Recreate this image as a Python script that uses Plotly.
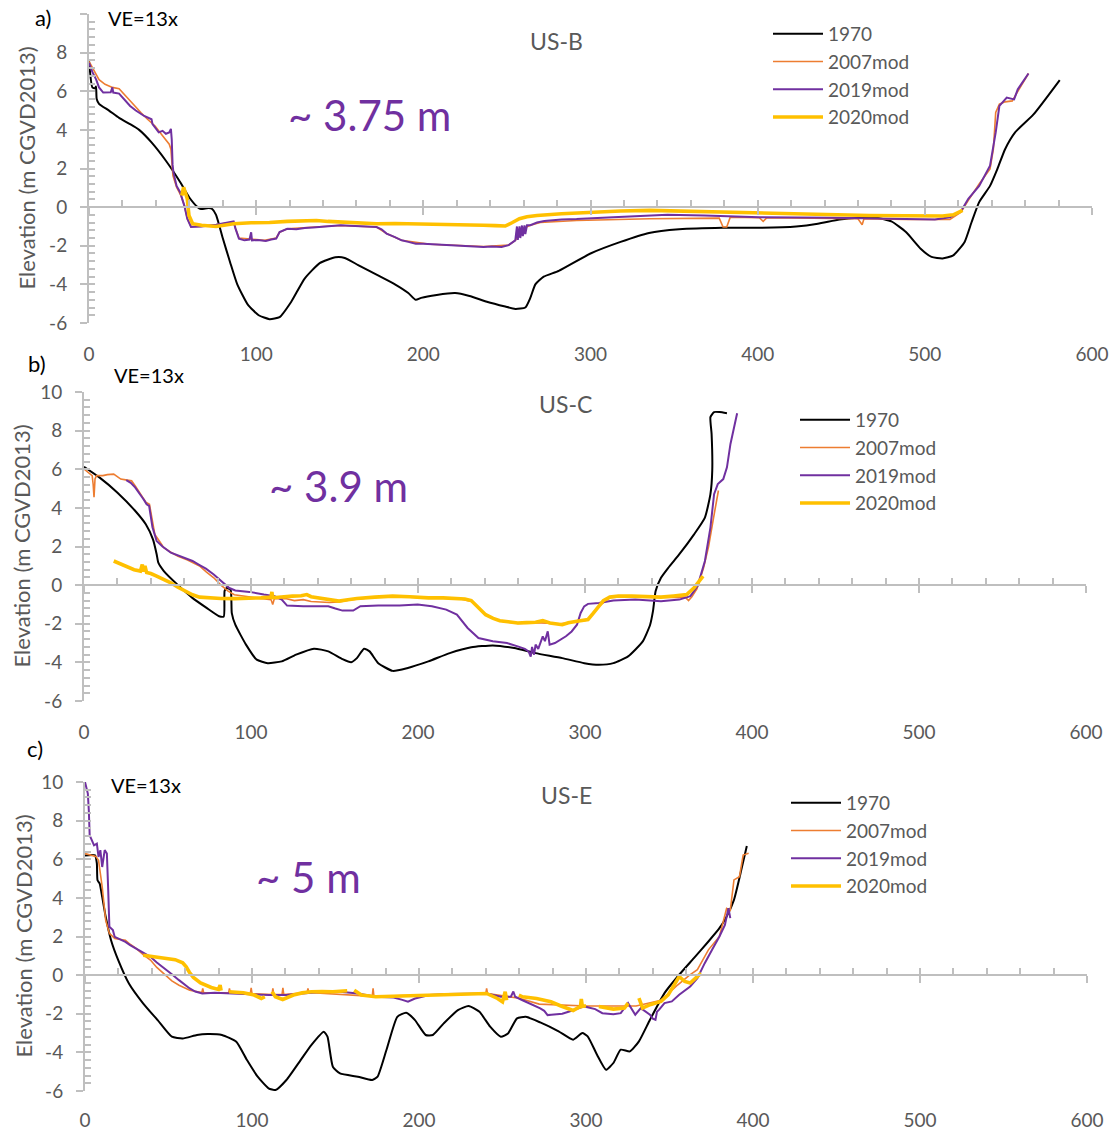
import plotly.graph_objects as go

# ---------------- data ----------------
SERIES = ["1970", "2007mod", "2019mod", "2020mod"]
PANEL_TITLES = ["US-B", "US-C", "US-E"]
PANEL_LETTERS = ["a)", "b)", "c)"]
DEPTH_LABELS = ["~ 3.75 m", "~ 3.9 m", "~ 5 m"]
VE_LABEL = "VE=13x"
Y_TITLE = "Elevation (m CGVD2013)"
X_TICKS = [0, 100, 200, 300, 400, 500, 600]
Y_TICKS = [-6, -4, -2, 0, 2, 4, 6, 8, 10]

# Panel a) US-B  (distance m, elevation m)
A_1970 = [(0, 7.58), (2, 6.2), (3.6, 6.15), (4.2, 6.25), (4.6, 5.6), (6, 5.35), (12, 5.0), (18, 4.62),
          (24.5, 4.3), (30, 4.0), (37.4, 3.35), (46, 2.4), (54.5, 1.3), (60, 0.5), (65, 0.0), (67, -0.1),
          (71.6, -0.05), (73.7, -0.1), (76, -0.4), (80, -1.6), (84.4, -2.85), (88.7, -4.0), (95, -5.05),
          (101.5, -5.6), (108, -5.8), (114, -5.7), (121, -4.9), (129, -3.7), (138, -2.9), (147.4, -2.6),
          (153, -2.63), (161, -3.0), (172, -3.5), (183, -4.0), (191, -4.45), (195.5, -4.8), (198.7, -4.7),
          (208, -4.55), (219, -4.45), (227.6, -4.6), (238, -4.9), (249, -5.15), (255, -5.27), (261, -5.2),
          (264, -4.7), (267, -4.0), (272, -3.6), (281, -3.3), (300, -2.4), (318, -1.8), (335, -1.34),
          (353, -1.15), (379, -1.07), (401, -1.07), (423, -1.0), (436, -0.86), (449, -0.64), (460, -0.55),
          (471, -0.55), (480, -0.74), (488.7, -1.29), (497.5, -2.15), (504, -2.58), (510.6, -2.66),
          (517, -2.5), (523.8, -1.8), (528, -0.77), (532.5, 0.26), (539, 1.1), (543.5, 2.0), (548, 3.0),
          (554, 3.87), (565, 4.8), (580.7, 6.58)]
A_2007 = [(0, 7.55), (3, 7.1), (6, 6.6), (9.6, 6.36), (14, 6.2), (18, 6.13), (21, 5.84), (26, 5.35),
          (31, 4.9), (35, 4.55), (39.5, 4.2), (44, 3.7), (48, 3.26), (49, 3.0), (50.2, 1.63), (52.4, 1.03),
          (55, 0.6), (57, 0.1), (58.8, -0.6), (61, -1.0), (67, -1.0), (76, -0.92), (86.5, -0.76),
          (87.6, -1.1), (89.7, -1.6), (105, -1.72), (112, -1.6), (114, -1.3), (118.6, -1.12), (150, -0.95),
          (172, -1.03), (178, -1.37), (187, -1.72), (204, -1.92), (236, -2.04), (251, -1.97), (255, -1.72),
          (260, -1.1), (264, -0.94), (270, -0.8), (291.7, -0.69), (335.5, -0.6), (377, -0.57),
          (379.3, -1.03), (381.5, -1.03), (383.6, -0.52), (401, -0.55), (403.3, -0.74), (405.5, -0.55),
          (460, -0.6), (462.5, -0.91), (463.6, -0.6), (488.7, -0.64), (515, -0.64), (521.6, -0.26),
          (526, 0.35), (532.5, 1.2), (539, 1.98), (541, 3.0), (542.4, 4.9), (544.6, 5.33), (548, 5.45),
          (552.3, 5.5), (555, 5.9), (562, 6.92)]
A_2019 = [(0, 7.47), (2, 7.0), (4.3, 6.6), (6, 6.2), (8.5, 5.93), (11, 5.95), (13, 5.95), (14, 6.2),
          (14.5, 5.93), (18, 5.88), (21, 5.6), (24.6, 5.24), (28, 5.0), (33, 4.72), (37.4, 4.55), (38, 4.3),
          (41.7, 3.87), (44, 3.95), (46, 3.8), (48, 3.87), (49, 4.05), (49.5, 3.5), (50, 2.2), (50.5, 1.8),
          (52.4, 1.1), (54.5, 0.77), (57, 0.08), (58.8, -0.6), (61, -1.03), (67, -1.0), (76, -0.91),
          (86.5, -0.74), (87.6, -1.1), (89.7, -1.63), (93, -1.72), (96, -1.68), (97, -1.3), (97.5, -1.72),
          (101, -1.7), (105.8, -1.75), (109, -1.68), (112, -1.63), (114, -1.29), (118.6, -1.12),
          (124, -1.15), (129, -1.08), (134, -1.05), (140, -1.0), (145, -0.98), (150.6, -0.94),
          (156, -0.96), (161, -0.98), (167, -1.0), (172, -1.03), (175, -1.15), (178, -1.37), (183, -1.55),
          (187, -1.72), (191, -1.8), (195.5, -1.89), (200, -1.9), (204, -1.92), (209, -1.95),
          (214.7, -1.97), (220, -1.98), (225, -2.0), (230, -2.02), (236, -2.06), (241, -2.04),
          (246.8, -2.06), (251, -1.97), (255, -1.72), (256, -1.0), (256.5, -1.7), (257.5, -1.0),
          (258, -1.6), (259, -0.95), (259.5, -1.5), (260.5, -0.95), (261, -1.4), (262, -0.94),
          (264, -0.94), (268, -0.8), (272.4, -0.72), (282.7, -0.64), (291.7, -0.62), (313.6, -0.52),
          (346, -0.4), (368, -0.43), (401, -0.52), (445, -0.55), (488.7, -0.6), (506, -0.64), (515, -0.52),
          (521.6, -0.22), (526, 0.43), (532.5, 1.1), (539, 2.15), (542.4, 3.87), (544.6, 5.24),
          (549, 5.67), (553.4, 5.58), (555.6, 6.1), (562, 6.92)]
A_2020 = [(55.5, 0.6), (56.6, 1.03), (58.8, 0.43), (59.8, -0.43), (62, -0.86), (67.3, -0.94), (76, -1.0),
          (86.5, -0.86), (97, -0.81), (108, -0.8), (118.6, -0.74), (127, -0.72), (136, -0.69),
          (143, -0.74), (150.6, -0.77), (160, -0.82), (172, -0.86), (183, -0.85), (193.4, -0.86),
          (204, -0.88), (214.7, -0.91), (225, -0.92), (236, -0.94), (243, -0.96), (249, -0.98),
          (253, -0.81), (257.5, -0.6), (262, -0.5), (268, -0.43), (282.7, -0.34), (300.4, -0.26),
          (318, -0.2), (335.5, -0.17), (357, -0.22), (379, -0.26), (401, -0.3), (423, -0.34), (445, -0.38),
          (466.8, -0.43), (488, -0.45), (510.6, -0.46), (517, -0.4), (522.6, -0.17)]

# Panel b) US-C
B_1970 = [(0, 6.13), (9.2, 5.58), (19.9, 4.8), (30.6, 3.85), (37, 3.15), (41.3, 2.37), (43.5, 1.6),
          (44.5, 1.16), (47.8, 0.73), (56.3, 0), (64.9, -0.66), (73.4, -1.18), (80.9, -1.61),
          (83.7, -1.62), (84.2, -0.3), (85.5, -0.15), (87.8, -0.25), (88.5, -1.45), (90.6, -2.05),
          (97, -3.08), (103.4, -3.86), (110, -4.04), (118.4, -3.95), (127, -3.6), (137.7, -3.29),
          (146.3, -3.43), (154.8, -3.83), (160, -3.99), (163.4, -3.78), (167.7, -3.29), (171, -3.43),
          (176.2, -4.04), (184.8, -4.44), (193.4, -4.3), (206.2, -3.95), (219, -3.52), (231.9, -3.22),
          (244.8, -3.12), (257.6, -3.26), (270.4, -3.52), (286.4, -3.78), (299.6, -4.04), (308.3, -4.12),
          (317, -4.04), (325.8, -3.69), (334.6, -2.91), (339, -2.05), (340.7, -1.35), (342.3, -0.31),
          (345.5, 0.38), (349.9, 0.9), (356.5, 1.6), (365.3, 2.63), (371.8, 3.5), (375.1, 4.71),
          (376.2, 5.93), (375.8, 7.83), (375.1, 8.7), (377.3, 8.96), (380.6, 8.96), (385, 8.9)]
B_2007 = [(0, 6.01), (3, 5.8), (4.9, 5.67), (5.5, 5.2), (6, 4.55), (6.6, 5.5), (7.5, 5.67), (11.3, 5.67),
          (14, 5.72), (17.8, 5.75), (20, 5.6), (22, 5.49), (25, 5.45), (28.5, 5.4), (31, 5.1), (34.9, 4.54),
          (37, 4.3), (39.2, 4.19), (40.5, 3.5), (42.4, 2.63), (45, 2.3), (47.8, 1.94), (52, 1.7),
          (56.3, 1.5), (62, 1.3), (69.2, 0.99), (73, 0.7), (77.7, 0.38), (82, 0.0), (86.3, -0.31),
          (90, -0.5), (94.9, -0.57), (103.4, -0.66), (112, -0.75), (113, -1.0), (114, -0.7),
          (120.6, -0.69), (126, -0.8), (131.3, -0.75), (136, -0.85), (142, -0.87), (147, -0.9),
          (152.7, -0.87), (160, -0.75), (170, -0.66), (180, -0.6), (195, -0.62), (210, -0.66),
          (225, -0.7), (232, -0.85), (240.5, -1.55), (249, -1.86), (260, -1.98), (270, -1.94),
          (285, -2.0), (295.2, -1.9), (301.8, -1.8), (308.3, -1.1), (314.9, -0.64), (328, -0.6),
          (345.5, -0.64), (360, -0.62), (362, -0.8), (364, -0.6), (367, -0.2), (371, 0.9), (374, 2.0),
          (377, 3.5), (379.9, 4.9)]
B_2019 = [(25.3, 5.44), (28, 5.3), (30.6, 5.06), (33, 4.8), (34.9, 4.54), (36, 4.4), (37.5, 4.19),
          (39, 4.1), (41, 3.0), (43.5, 2.29), (47, 2.0), (52, 1.68), (56, 1.55), (60.6, 1.42), (65, 1.25),
          (69.2, 1.04), (73, 0.85), (77.7, 0.55), (81, 0.3), (84.2, 0.03), (87, -0.15), (90.6, -0.28),
          (99.1, -0.35), (107.7, -0.49), (114.1, -0.57), (118.4, -0.75), (121.6, -1.06), (131.3, -1.09),
          (146.3, -1.09), (150.5, -1.21), (154.8, -1.32), (161.2, -1.32), (165.5, -1.09), (176.2, -1.06),
          (189, -1.06), (199.8, -1.0), (208.3, -1.09), (216.9, -1.27), (223.3, -1.53), (229.7, -2.22),
          (236.2, -2.74), (244.8, -2.91), (253.3, -3.0), (259.7, -3.17), (264, -3.3), (266.2, -3.43),
          (267.5, -3.7), (268.3, -3.2), (269.5, -3.6), (270.4, -3.08), (272, -3.3), (274.7, -2.65),
          (276, -2.9), (277.7, -2.39), (278.8, -3.08), (282, -3.0), (288.6, -2.65), (292, -2.4),
          (295.2, -2.05), (297.4, -1.44), (299.5, -1.1), (301.8, -0.97), (308.3, -0.92), (317, -0.8),
          (330.2, -0.75), (345.5, -0.83), (356.5, -0.75), (363.1, -0.57), (367.4, -0.05), (371.8, 1.25),
          (375.1, 2.98), (377.3, 4.71), (379.5, 5.23), (382.8, 5.49), (385, 6.1), (387.1, 7.31),
          (391.1, 8.9)]
B_2020 = [(17.8, 1.25), (22, 1.08), (26.3, 0.9), (30, 0.8), (33.8, 0.73), (34.9, 1.07), (35.5, 0.7),
          (36.5, 1.0), (37.5, 0.65), (40, 0.6), (43.5, 0.47), (48, 0.3), (52, 0.12), (56, -0.1),
          (60.6, -0.31), (65, -0.5), (69.2, -0.62), (75, -0.67), (82, -0.69), (90, -0.7), (99.1, -0.69),
          (106, -0.66), (112, -0.62), (112.5, -0.35), (113, -0.65), (118, -0.6), (124.8, -0.57),
          (130, -0.55), (133.4, -0.49), (136, -0.6), (142, -0.69), (147, -0.78), (152.7, -0.83),
          (158, -0.76), (163.4, -0.69), (174.1, -0.62), (184.8, -0.57), (195, -0.6), (206.2, -0.66),
          (215, -0.66), (223.3, -0.69), (228, -0.72), (231.9, -0.8), (236, -1.15), (240.5, -1.53),
          (245, -1.72), (249, -1.84), (254, -1.9), (259.7, -1.96), (265, -1.94), (270.4, -1.92),
          (274.7, -1.84), (279, -1.96), (286.4, -2.05), (290, -1.95), (295.2, -1.87), (301.8, -1.78),
          (305, -1.45), (308.3, -1.09), (311, -0.8), (314.9, -0.62), (320, -0.56), (328, -0.57),
          (337, -0.6), (345.5, -0.62), (353, -0.56), (360.9, -0.49), (365.3, -0.14), (368.5, 0.21),
          (370.7, 0.47)]

# Panel c) US-E   (None marks a break in the surveyed line)
C_1970 = [(0, 6.2), (6, 6.2), (7.1, 5.78), (7.5, 4.91), (8.8, 4.74), (10.3, 4.05), (12.4, 3.02),
          (15.6, 1.81), (19.9, 0.78), (26.3, -0.43), (34.9, -1.47), (43.5, -2.33), (52, -3.19),
          (58.5, -3.28), (67, -3.1), (73.4, -3.05), (82, -3.1), (90.6, -3.45), (97, -4.4), (103.4, -5.26),
          (109.9, -5.86), (114.1, -5.95), (120.6, -5.43), (129.1, -4.4), (135.5, -3.62), (143, -2.93),
          (145.2, -3.19), (148.4, -4.74), (152.7, -5.09), (163.4, -5.26), (172, -5.43), (175.2, -5.26),
          (180.5, -3.88), (187, -2.16), (192.3, -1.95), (197.6, -2.33), (204, -3.1), (208.3, -3.1),
          (214.8, -2.5), (223.3, -1.81), (229.7, -1.6), (236.2, -1.9), (242.6, -2.67), (249, -3.19),
          (253.3, -3.02), (258.7, -2.24), (264, -2.16), (272.6, -2.45), (283.6, -2.91), (292.3, -3.34),
          (297.8, -3.0), (301, -3.17), (306.6, -4.12), (312, -4.9), (316.4, -4.55), (320.8, -3.86),
          (326.3, -3.95), (331.7, -3.43), (338.3, -2.31), (347, -0.93), (355.8, 0.02), (364.6, 0.88),
          (373.3, 1.74), (379.9, 2.43), (384.2, 3.03), (388.6, 3.9), (393, 5.45), (396.3, 6.69)]
C_2007 = [(0, 6.29), (3, 6.22), (5.4, 6.2), (6.5, 6.15), (8.1, 5.95), (10.3, 4.57), (12.4, 2.84),
          (14.6, 2.16), (17.8, 1.9), (21, 1.85), (24.2, 1.81), (27, 1.6), (30.6, 1.38), (35, 1.05),
          (39.2, 0.78), (43, 0.4), (47.8, 0.0), (52, -0.3), (56.3, -0.52), (62.7, -0.78), (70, -0.9),
          (70.5, -0.69), (71, -0.9), (86, -0.92), (86.5, -0.69), (87, -0.92), (99, -0.96), (99.5, -0.66),
          (100, -0.96), (112, -1.0), (112.5, -0.69), (113, -1.0), (118, -1.0), (118.5, -0.66),
          (119, -1.0), (133, -0.9), (133.5, -0.69), (134, -0.9), (172, -1.1), (172.5, -0.69),
          (173, -1.1), (206, -1.03), (240, -0.95), (240.5, -0.69), (241, -0.95), (260, -1.2),
          (272, -1.5), (300, -1.6), (330, -1.6), (345, -1.3), (355, -0.5), (362, 0.0), (366.7, 0.28),
          (373.3, 1.31), (379.9, 2.0), (384.2, 3.45), (386.4, 3.36), (388.6, 4.93), (391.9, 5.1),
          (394.1, 6.22), (397.4, 6.31)]
C_2019 = [(0, 10), (1.7, 9.4), (2.3, 8.5), (2.8, 7.24), (4, 7.0), (5.4, 6.72), (7.1, 6.81), (8.1, 6.12),
          (9.2, 6.47), (10.3, 5.6), (11.8, 6.47), (13.1, 6.3), (13.9, 4.4), (14.6, 2.5), (16.7, 2.33),
          (17.8, 1.98), (21, 1.85), (24.2, 1.72), (27, 1.55), (30.6, 1.38), (35, 1.15), (39.2, 0.95),
          (43, 0.65), (47.8, 0.34), (52, 0.05), (56.3, -0.26), (60, -0.5), (62.7, -0.69), (66, -0.85),
          (70.2, -0.95), (77.7, -0.91), (88.4, -0.95), (99.1, -0.98), (110, -1.03), (120.6, -1.03),
          (131.3, -0.95), (142, -0.86), (152.7, -0.86), (163.4, -0.95), (174.1, -1.12), (184.8, -1.16),
          (190, -1.28), (193.4, -1.38), (197.6, -1.21), (206.2, -1.03), (217, -0.98), (227.6, -0.95),
          (240.5, -0.95), (249, -1.12), (255, -1.12), (256.5, -0.85), (257.6, -1.12), (262, -1.3),
          (266.2, -1.47), (270, -1.6), (272.6, -1.72), (275, -1.85), (277, -2.07), (279.2, -2.05),
          (285.8, -2.0), (290, -1.88), (294.5, -1.76), (298.9, -1.62), (305.5, -1.76), (309.8, -1.97),
          (316.4, -2.02), (320.8, -1.97), (325.2, -1.45), (327.4, -1.79), (329.5, -2.05), (332.8, -1.71),
          (336, -1.9), (338.3, -2.05), (340, -2.25), (341.6, -2.31), (342.5, -1.9), (343.8, -1.79),
          (347, -1.45), (351.4, -1.36), (355.8, -1.02), (362.4, -0.59), (366.7, -0.16), (371.1, 0.62),
          (375.5, 1.31), (379.9, 2.0), (383.2, 2.6), (385.3, 3.47), (386.4, 2.95)]
C_2020 = [(34.9, 1.03), (38, 1.0), (41.3, 0.95), (45, 0.92), (49.9, 0.86), (54, 0.8), (58.5, 0.64),
          (60.6, 0.43), (62.5, 0.15), (64.9, -0.12), (69.2, -0.4), (75.6, -0.64), (79.9, -0.74),
          (80.9, -0.52), (81.5, -0.8), (None, None), (86.3, -0.86), (90, -0.88), (94.9, -0.91),
          (101.3, -1.03), (105.6, -1.21), (107.7, -1.12), (None, None), (112, -0.86), (114, -1.12),
          (118.4, -1.26), (124.8, -1.03), (130, -0.92), (135.5, -0.86), (142, -0.85), (148.4, -0.86),
          (157, -0.81), (None, None), (161.2, -0.78), (165.5, -1.03), (174.1, -1.12), (184.8, -1.09),
          (195.5, -1.03), (206, -1.0), (216.9, -0.98), (227.6, -0.95), (240.5, -0.95), (247, -1.21),
          (250, -1.38), (251.6, -0.86), (252.5, -1.3), (None, None), (259.8, -1.03), (262, -1.12),
          (270.4, -1.21), (279, -1.38), (285, -1.6), (292.3, -1.83), (296.7, -1.62), (297.2, -1.24),
          (297.8, -1.62), (300, -1.59), (None, None), (307.7, -1.62), (316.4, -1.76), (323, -1.71),
          (325.2, -1.45), (None, None), (331.7, -1.19), (333.9, -1.71), (338.3, -1.53), (344.9, -1.36),
          (349.2, -1.02), (353.6, -0.41), (355.8, -0.07), (359.1, -0.33), (362.4, -0.41), (368.9, 0.1)]

PANELS = [
    [A_1970, A_2007, A_2019, A_2020],
    [B_1970, B_2007, B_2019, B_2020],
    [C_1970, C_2007, C_2019, C_2020],
]

# ---------------- styling / layout ----------------
W, H = 1114, 1130
FONT = "Lato, 'Open Sans', sans-serif"
GRAY_TXT = "#595959"
AXIS_GRAY = "#BFBFBF"
COLORS = ["#000000", "#ED7D31", "#7030A0", "#FFC000"]
WIDTHS = [2.0, 1.6, 2.0, 3.6]

# plot-area pixel boxes: (left, right, top, bottom)
BOXES = [(89, 1092, 14, 323), (84, 1086, 392, 701), (85, 1087, 782, 1091)]
XLAB_GAP = [14, 14, 12]
XR = [0, 600]
YR = [-6, 10]


def px(x):
    return x / W


def py(y):
    return 1 - y / H


fig = go.Figure()
layout = dict(
    width=W, height=H, margin=dict(l=0, r=0, t=0, b=0, autoexpand=False), autosize=False,
    paper_bgcolor="white", plot_bgcolor="rgba(0,0,0,0)",
    font=dict(family=FONT, color=GRAY_TXT, size=19),
    annotations=[],
)

LEGEND_POS = [(768, 15), (795, 401), (786, 784)]
ANN = [
    # letter (cx, cy), VE (left, cy), title (cx, cy), depth (cx, cy)
    ((43, 18), (106, 18), (556, 41), (369, 115)),
    ((37, 363), (112, 375), (565, 404), (339, 486)),
    ((35, 748), (109, 785), (566, 795), (308, 877)),
]
YTITLE_X = [26, 21, 23]

for k in range(3):
    n = k + 1
    xs = "" if n == 1 else str(n)
    l, r, t, b = BOXES[k]
    xdom = [px(l), px(r)]
    ydom = [py(b), py(t)]
    zero_pos = ydom[0] + (0 - YR[0]) / (YR[1] - YR[0]) * (ydom[1] - ydom[0])
    legname = "legend" if n == 1 else "legend%d" % n
    ix1 = str(3 + n)
    ix2 = str(6 + n)

    for s, pts in enumerate(PANELS[k]):
        xv = [p[0] for p in pts]
        yv = [p[1] for p in pts]
        line = dict(color=COLORS[s], width=WIDTHS[s])
        if s == 0:
            line.update(shape="spline", smoothing=0.5)
        fig.add_trace(go.Scatter(x=xv, y=yv, mode="lines", name=SERIES[s], line=line,
                                 xaxis="x" + xs, yaxis="y" + xs, legend=legname,
                                 connectgaps=False, hoverinfo="skip"))

    # empty helper traces so that the overlay axes (axis line at 0, inner ticks) are drawn
    for xa, ya in (("x" + ix1, "y" + xs), ("x" + ix2, "y" + xs), ("x" + xs, "y" + ix1)):
        fig.add_trace(go.Scatter(x=[None], y=[None], mode="lines", xaxis=xa, yaxis=ya,
                                 showlegend=False, hoverinfo="skip"))

    ytext = [str(v) for v in Y_TICKS]
    if k == 0:
        ytext[-1] = ""
    # main axes
    layout["xaxis" + xs] = dict(domain=xdom, range=XR, anchor="y" + xs, showline=False, zeroline=False,
                               showgrid=False, tickvals=X_TICKS, ticks="outside", ticklen=XLAB_GAP[k],
                               tickcolor="rgba(0,0,0,0)", tickfont=dict(size=19, color=GRAY_TXT),
                               automargin=False)
    layout["yaxis" + xs] = dict(domain=ydom, range=YR, anchor="x" + xs, showline=True, linecolor=AXIS_GRAY,
                               linewidth=2, zeroline=False, showgrid=False, tickvals=Y_TICKS, ticktext=ytext,
                               ticks="outside", ticklen=7, tickwidth=2, tickcolor=AXIS_GRAY,
                               ticklabelstandoff=9, tickfont=dict(size=19, color=GRAY_TXT),
                               automargin=False)
    # horizontal axis line drawn at elevation 0
    layout["xaxis" + ix1] = dict(overlaying="x" + xs, anchor="free", position=zero_pos, range=XR,
                                 showline=True, linecolor=AXIS_GRAY, linewidth=2, zeroline=False,
                                 showgrid=False, showticklabels=False, ticks="inside", ticklen=6,
                                 tickwidth=2, tickcolor=AXIS_GRAY, tickmode="linear", tick0=0, dtick=20,
                                 automargin=False)
    layout["xaxis" + ix2] = dict(overlaying="x" + xs, anchor="free", position=zero_pos, range=XR,
                                 showline=False, zeroline=False, showgrid=False, showticklabels=False,
                                 ticks="outside", ticklen=7, tickwidth=2, tickcolor=AXIS_GRAY,
                                 tickvals=X_TICKS, automargin=False)
    layout["yaxis" + ix1] = dict(overlaying="y" + xs, anchor="x" + xs, range=YR, side="left",
                                 showline=False, zeroline=False, showgrid=False, showticklabels=False,
                                 ticks="inside", ticklen=6, tickwidth=2, tickcolor=AXIS_GRAY,
                                 tickmode="linear", tick0=-6, dtick=0.4, automargin=False)

    lx, ly = LEGEND_POS[k]
    layout[legname] = dict(x=px(lx), y=py(ly), xanchor="left", yanchor="top", bgcolor="rgba(0,0,0,0)",
                           font=dict(size=19, color=GRAY_TXT, family=FONT), itemwidth=50,
                           traceorder="normal", tracegroupgap=0)

    (lcx, lcy), (vx, vy), (tcx, tcy), (dcx, dcy) = ANN[k]
    anns = layout["annotations"]
    anns.append(dict(text=PANEL_LETTERS[k], x=px(lcx), y=py(lcy), xref="paper", yref="paper",
                     xanchor="center", yanchor="middle",
                     showarrow=False, font=dict(size=22, color="black")))
    anns.append(dict(text=VE_LABEL, x=px(vx), y=py(vy), xref="paper", yref="paper", xanchor="left",
                     yanchor="middle", showarrow=False, font=dict(size=20, color="black")))
    anns.append(dict(text=PANEL_TITLES[k], x=px(tcx), y=py(tcy), xref="paper", yref="paper",
                     xanchor="center", yanchor="middle",
                     showarrow=False, font=dict(size=23, color=GRAY_TXT)))
    anns.append(dict(text=DEPTH_LABELS[k], x=px(dcx), y=py(dcy), xref="paper", yref="paper",
                     xanchor="center", yanchor="middle",
                     showarrow=False, font=dict(size=42, color="#7030A0")))
    anns.append(dict(text=Y_TITLE, x=px(YTITLE_X[k]), y=(ydom[0] + ydom[1]) / 2, xref="paper",
                     yref="paper", textangle=-90, xanchor="center", yanchor="middle",
                     showarrow=False, font=dict(size=22, color=GRAY_TXT)))

fig.update_layout(**layout)
# remove the browser's default 8px page margin so the figure fills the window exactly
fig.write_html("out.html", config={"displayModeBar": False},
               post_script="document.body.style.margin='0';document.body.style.overflow='hidden';")
